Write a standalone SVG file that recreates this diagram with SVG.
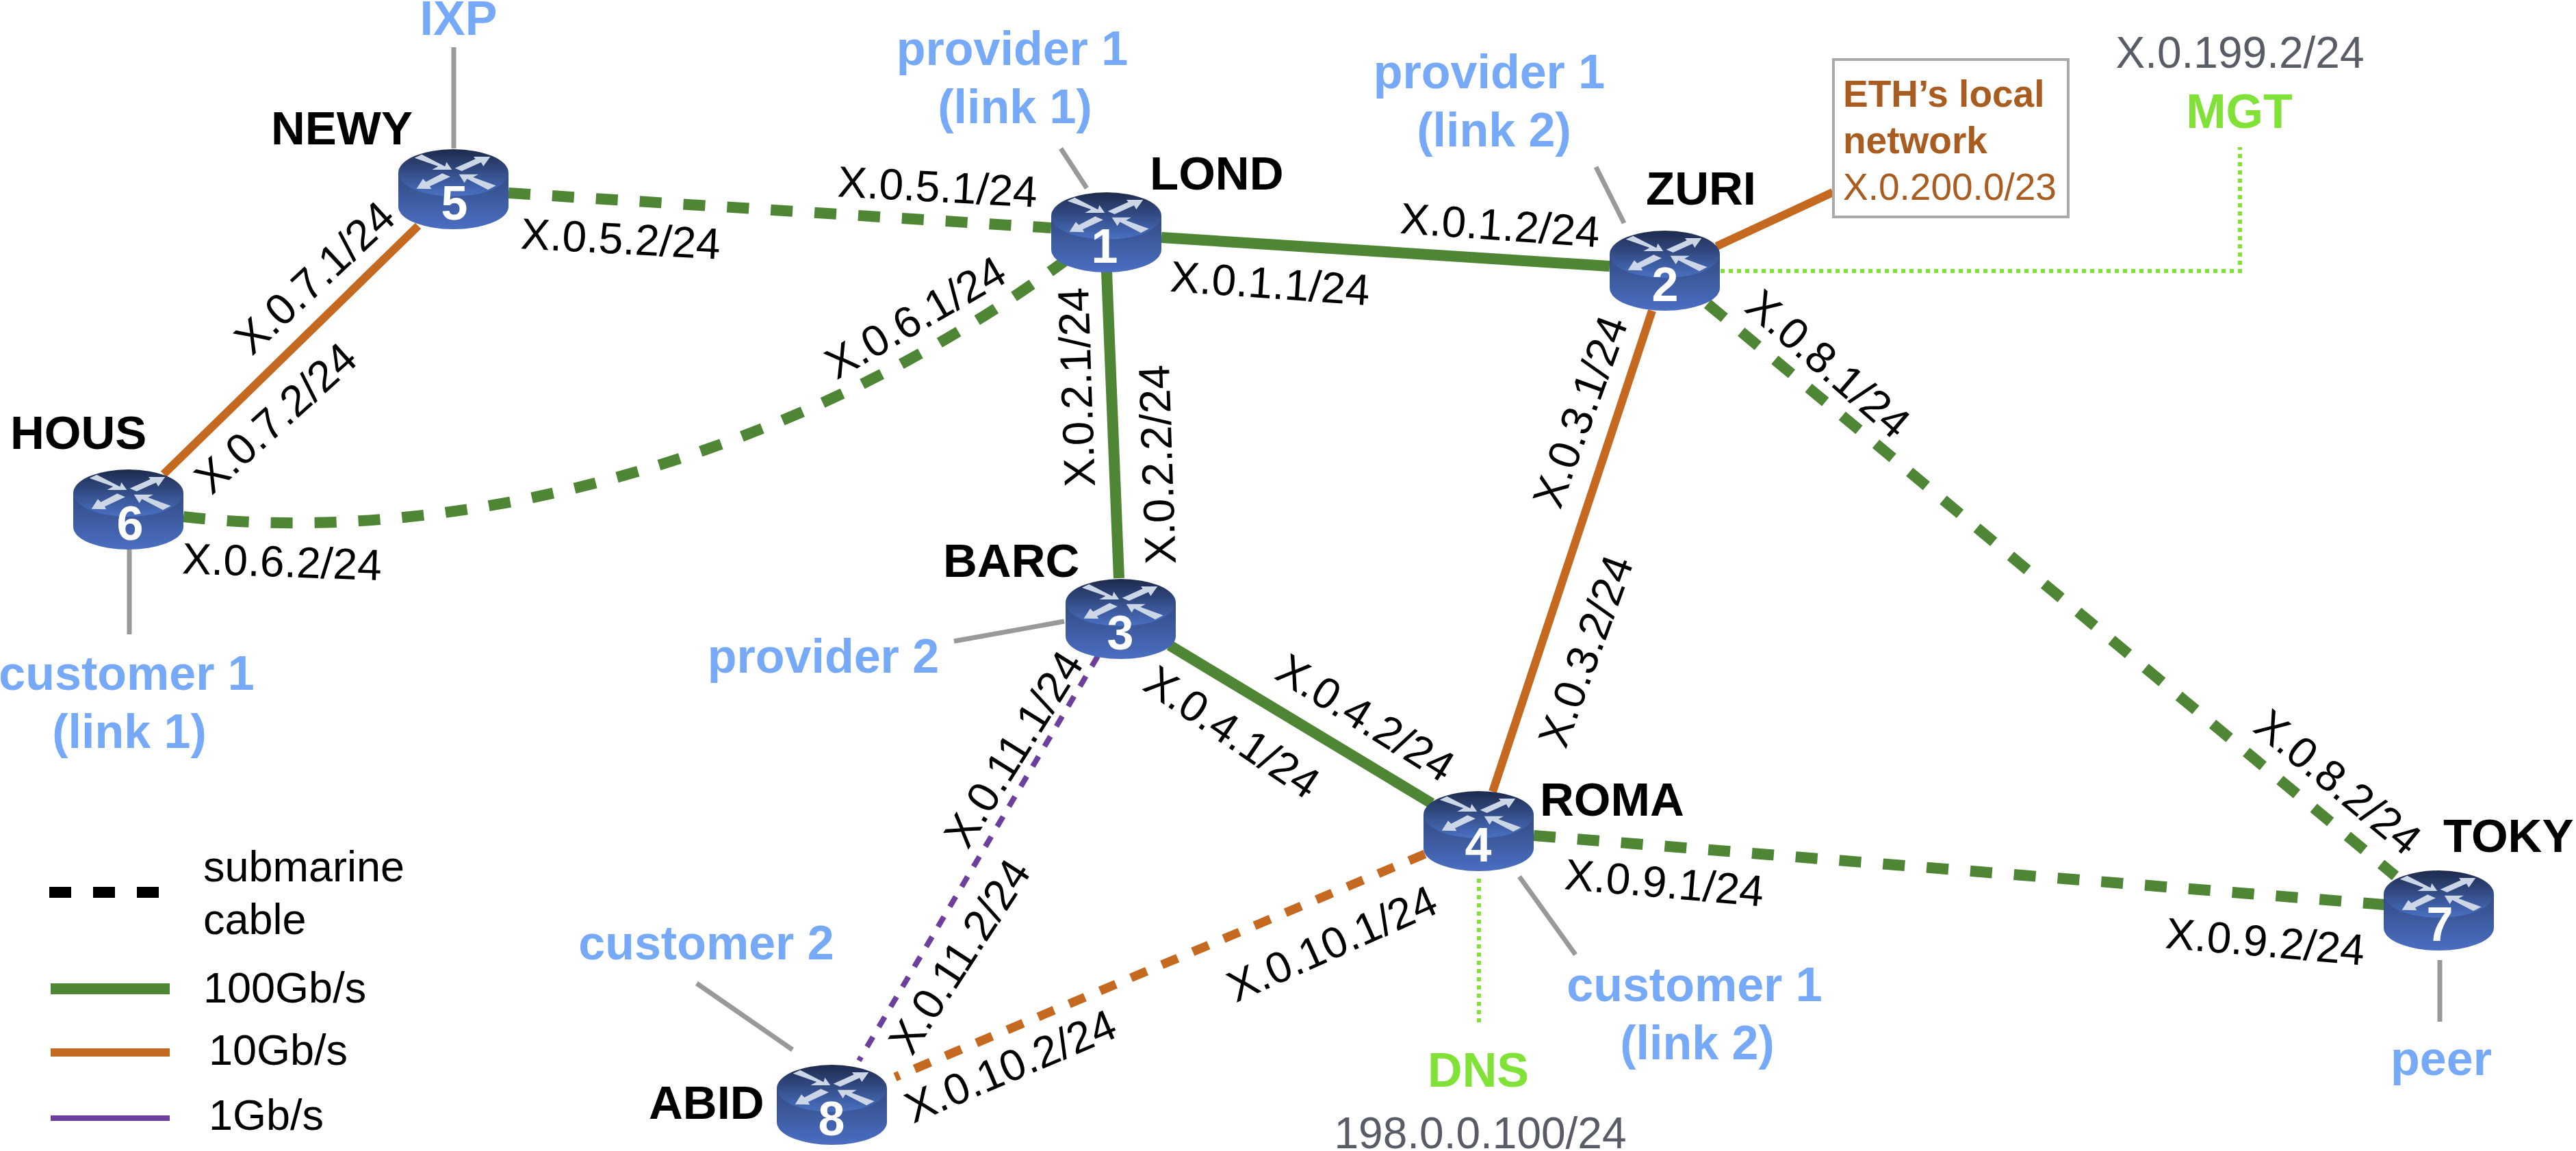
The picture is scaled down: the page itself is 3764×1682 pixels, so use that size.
<svg xmlns="http://www.w3.org/2000/svg" width="3764" height="1682" viewBox="0 0 3764 1682">
<style>
text{font-family:"Liberation Sans",Arial,sans-serif}
.ip{font-size:64px;fill:#000;text-anchor:middle}
.name{font-size:69px;font-weight:bold;fill:#000}
.blue{font-size:70px;font-weight:bold;fill:#76a9f8;text-anchor:middle}
.green{font-size:70px;font-weight:bold;fill:#80e236;text-anchor:middle}
.grey{font-size:64px;fill:#585c66;text-anchor:middle}
.num{font-size:70px;font-weight:bold;fill:#fff;text-anchor:middle}
.leg{font-size:63px;fill:#000}
.link{fill:none}
.g{stroke:#4f8636;stroke-width:16}
.o{stroke:#c4691f;stroke-width:12}
.p{stroke:#6c3f9c;stroke-width:8}
.gd{stroke-dasharray:32 32}
.od{stroke-dasharray:25 24;stroke-width:13}
.pd{stroke-dasharray:17 17}
.s{stroke:#999;stroke-width:7}
.m{stroke:#80e236;stroke-width:6;stroke-dasharray:6 6}
</style>
<defs>
<linearGradient id="top" x1="0" y1="0" x2="0" y2="1"><stop offset="0" stop-color="#1e2a4c"/><stop offset="1" stop-color="#4a71c4"/></linearGradient>
<linearGradient id="body" x1="0" y1="0" x2="0" y2="1"><stop offset="0" stop-color="#324a82"/><stop offset="1" stop-color="#4a6ec2"/></linearGradient>
<g id="router">
<path d="M0,34V84A80.5,33 0 0 0 161,84V34Z" fill="url(#body)"/>
<ellipse cx="80.5" cy="34.5" rx="80.5" ry="34.5" fill="url(#top)"/>
<g transform="scale(.3333) translate(-107,-122)" fill="#cbd6e6">
<polygon points="178,160 210,145 312,198 318,178 342,212 255,212 282,197"/>
<polygon points="355,205 445,165 437,155 510,155 480,197 470,180 385,218"/>
<polygon points="300,228 335,243 245,285 252,297 187,295 215,252 228,265"/>
<polygon points="373,232 458,232 435,245 535,282 500,300 408,252 397,270"/>
</g>
</g>
</defs>
<g id="connectors" class="link">
<path class="g gd" d="M743,282L1536,333"/>
<path class="g" d="M1697,347L2352,389"/>
<path class="g" d="M1617,397L1635,845"/>
<path class="o" d="M2414,454L2181,1157"/>
<path class="g gd" d="M2495,444L3500,1280"/>
<path class="g" d="M1709,943L2092,1174"/>
<path class="g gd" d="M2241,1221L3484,1322"/>
<path class="o od" d="M2082,1248L1308,1574"/>
<path class="p pd" d="M1604,959L1255,1550"/>
<path class="g gd" d="M268,755C650,800 1150,680 1555,382"/>
<path class="o" d="M239,693L611,330"/>
<path class="o" d="M2508,360L2678,281"/>
<path class="s" d="M663,69V217"/>
<path class="s" d="M189,802V927"/>
<path class="s" d="M1550,217L1588,275"/>
<path class="s" d="M2332,244L2373,326"/>
<path class="s" d="M1394,937L1555,908"/>
<path class="s" d="M1018,1437L1158,1534"/>
<path class="s" d="M2220,1281L2302,1395"/>
<path class="s" d="M3565,1403V1493"/>
<path class="m" d="M2514,396H3273V215"/>
<path class="m" d="M2161,1284V1500"/>
</g>
<g id="router-5"><use href="#router" x="582" y="218"/><text class="num" x="664" y="321">5</text></g>
<g id="router-6"><use href="#router" x="107" y="686"/><text class="num" x="190" y="789">6</text></g>
<g id="router-1"><use href="#router" x="1536" y="281"/><text class="num" x="1614" y="384">1</text></g>
<g id="router-2"><use href="#router" x="2352" y="337"/><text class="num" x="2433" y="440">2</text></g>
<g id="router-3"><use href="#router" x="1557" y="846"/><text class="num" x="1637" y="949">3</text></g>
<g id="router-4"><use href="#router" x="2080" y="1156"/><text class="num" x="2160" y="1259">4</text></g>
<g id="router-7"><use href="#router" x="3483" y="1272"/><text class="num" x="3565" y="1375">7</text></g>
<g id="router-8"><use href="#router" x="1135" y="1556"/><text class="num" x="1215" y="1659">8</text></g>
<g id="names">
<text class="name" x="396" y="211">NEWY</text>
<text class="name" x="15" y="656">HOUS</text>
<text class="name" x="1680" y="277">LOND</text>
<text class="name" x="2405" y="299">ZURI</text>
<text class="name" x="1378" y="843">BARC</text>
<text class="name" x="2250" y="1192">ROMA</text>
<text class="name" x="3570" y="1245">TOKY</text>
<text class="name" x="948" y="1635">ABID</text>
</g>
<g id="external">
<text class="blue" x="670" y="51">IXP</text>
<text class="blue" x="1479" y="95">provider 1</text>
<text class="blue" x="1483" y="180">(link 1)</text>
<text class="blue" x="2176" y="129">provider 1</text>
<text class="blue" x="2183" y="214">(link 2)</text>
<text class="blue" x="185" y="1008">customer 1</text>
<text class="blue" x="189" y="1093">(link 1)</text>
<text class="blue" x="1203" y="983">provider 2</text>
<text class="blue" x="1032" y="1402">customer 2</text>
<text class="blue" x="2476" y="1463">customer 1</text>
<text class="blue" x="2480" y="1548">(link 2)</text>
<text class="blue" x="3567" y="1571">peer</text>
<text class="green" x="3272" y="187">MGT</text>
<text class="green" x="2160" y="1588">DNS</text>
<text class="grey" x="3273" y="99">X.0.199.2/24</text>
<text class="grey" x="2163" y="1678">198.0.0.100/24</text>
</g>
<g id="local-network">
<rect x="2679" y="87" width="343" height="230" fill="#fff" stroke="#aaa" stroke-width="4"/>
<text x="2693" y="156" font-size="55" font-weight="bold" fill="#a95c1f">ETH’s local</text>
<text x="2693" y="224" font-size="55" font-weight="bold" fill="#a95c1f">network</text>
<text x="2693" y="292" font-size="55" fill="#a95c1f">X.0.200.0/23</text>
</g>
<g id="interface-labels">
<text class="ip" y="23" transform="translate(459,405) rotate(-43)">X.0.7.1/24</text>
<text class="ip" y="23" transform="translate(402,610) rotate(-42)">X.0.7.2/24</text>
<text class="ip" y="23" transform="translate(907,348) rotate(3)">X.0.5.2/24</text>
<text class="ip" y="23" transform="translate(1370,272) rotate(3)">X.0.5.1/24</text>
<text class="ip" y="23" transform="translate(412,820) rotate(2)">X.0.6.2/24</text>
<text class="ip" y="23" transform="translate(1337,463) rotate(-30)">X.0.6.1/24</text>
<text class="ip" y="23" transform="translate(1572,566) rotate(-92)">X.0.2.1/24</text>
<text class="ip" y="23" transform="translate(1690,679) rotate(-92)">X.0.2.2/24</text>
<text class="ip" y="23" transform="translate(1856,413) rotate(4)">X.0.1.1/24</text>
<text class="ip" y="23" transform="translate(2192,328) rotate(4)">X.0.1.2/24</text>
<text class="ip" y="23" transform="translate(2308,601) rotate(-70)">X.0.3.1/24</text>
<text class="ip" y="23" transform="translate(2316,951) rotate(-70)">X.0.3.2/24</text>
<text class="ip" y="23" transform="translate(2672,531) rotate(41)">X.0.8.1/24</text>
<text class="ip" y="23" transform="translate(3417,1142) rotate(39.5)">X.0.8.2/24</text>
<text class="ip" y="23" transform="translate(2432,1289) rotate(5)">X.0.9.1/24</text>
<text class="ip" y="23" transform="translate(3310,1375) rotate(5)">X.0.9.2/24</text>
<text class="ip" y="23" transform="translate(1996,1048) rotate(32)">X.0.4.2/24</text>
<text class="ip" y="23" transform="translate(1801,1069) rotate(34)">X.0.4.1/24</text>
<text class="ip" y="23" transform="translate(1480,1094) rotate(-58)">X.0.11.1/24</text>
<text class="ip" y="23" transform="translate(1401,1397) rotate(-57)">X.0.11.2/24</text>
<text class="ip" y="23" transform="translate(1946,1378) rotate(-24)">X.0.10.1/24</text>
<text class="ip" y="23" transform="translate(1476,1557) rotate(-23)">X.0.10.2/24</text>
</g>
<g id="legend">
<path class="link" d="M72,1304H232" stroke="#000" stroke-width="16" stroke-dasharray="32 32"/>
<path class="link g" d="M74,1445H248"/>
<path class="link o" d="M74,1538H248"/>
<path class="link p" d="M74,1634H248"/>
<text class="leg" x="297" y="1288">submarine</text>
<text class="leg" x="297" y="1365">cable</text>
<text class="leg" x="297" y="1465">100Gb/s</text>
<text class="leg" x="305" y="1556">10Gb/s</text>
<text class="leg" x="305" y="1651">1Gb/s</text>
</g>
</svg>
